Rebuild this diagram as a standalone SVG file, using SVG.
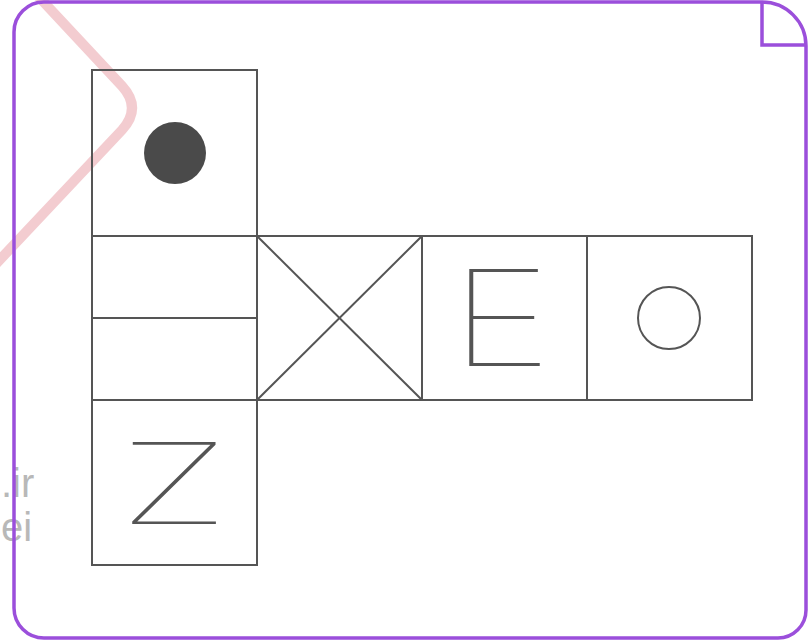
<svg xmlns="http://www.w3.org/2000/svg" width="808" height="643" viewBox="0 0 808 643">
<style>
.face{fill:none;stroke:#555;stroke-width:2}
.ln{fill:none;stroke:#555;stroke-width:2;stroke-linecap:butt}
.frame{fill:none;stroke:#9b4fdb;stroke-width:3.5}
.wm{font-family:"Liberation Sans",Arial,sans-serif;fill:#b8b8b8;font-size:40px}
.glyph{font-family:Inter,"DejaVu Sans",sans-serif;font-weight:100;fill:#555}
</style>
<rect width="808" height="643" fill="#fff"/>
<path d="M 38 -4 L 122 86 Q 142 108 122 130 L -6 266" fill="none" stroke="#e89aa2" stroke-opacity="0.5" stroke-width="10" stroke-linejoin="round"/>
<text class="wm" x="1" y="497">.ir</text>
<text class="wm" x="1" y="541">ei</text>
<g id="frame">
<path class="frame" d="M 44 2 L 762 2 A 44 44 0 0 1 806 46 L 806 610 A 28 28 0 0 1 778 638 L 44 638 A 30 30 0 0 1 14 608 L 14 32 A 30 30 0 0 1 44 2 Z"/>
<path class="frame" d="M 762 2 L 762 45 L 806 45"/>
</g>
<g id="face-top">
<rect class="face" x="92" y="70" width="165" height="166"/>
<circle cx="175" cy="153" r="31" fill="#4a4a4a"/>
</g>
<g id="face-lines">
<rect class="face" x="92" y="236" width="165" height="164"/>
<line class="ln" x1="92" y1="318" x2="257" y2="318"/>
</g>
<g id="face-x">
<rect class="face" x="257" y="236" width="165" height="164"/>
<line class="ln" x1="257" y1="236" x2="422" y2="400"/>
<line class="ln" x1="257" y1="400" x2="422" y2="236"/>
</g>
<g id="face-e">
<rect class="face" x="422" y="236" width="165" height="164"/>
<text class="glyph" x="0" y="0" font-size="133" transform="translate(501 366) scale(1.33 1)" text-anchor="middle">E</text>
</g>
<g id="face-circle">
<rect class="face" x="587" y="236" width="165" height="164"/>
<circle cx="669" cy="318" r="31" fill="none" stroke="#555" stroke-width="2"/>
</g>
<g id="face-z">
<rect class="face" x="92" y="400" width="165" height="165"/>
<text class="glyph" x="0" y="0" font-size="113" transform="translate(174 524) scale(1.62 1)" text-anchor="middle">Z</text>
</g>
</svg>
